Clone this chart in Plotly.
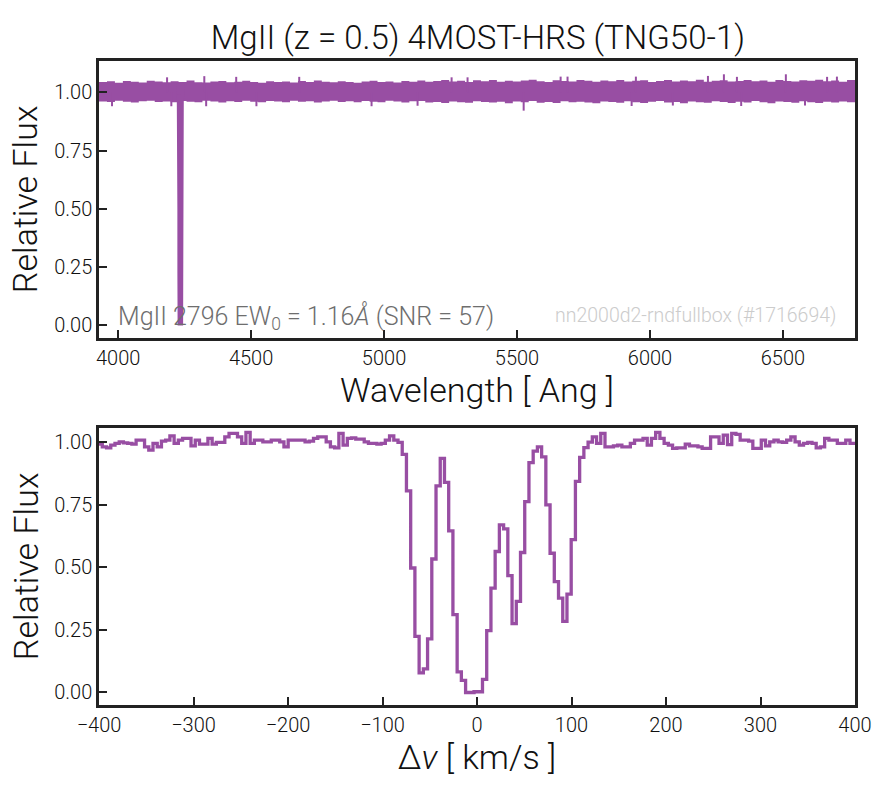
import numpy as np
import plotly.graph_objects as go

# ---- bottom panel: MgII 2796 profile, steps-mid on a uniform velocity grid
V_FIRST = -403.2      # km/s, centre of first pixel
DV = 4.47             # km/s per pixel
flux_profile = [
    0.992, 0.992, 0.981, 0.977, 0.988, 0.995, 1.001, 0.997, 0.995, 0.992,
    1.008, 1.008, 0.981, 0.968, 0.995, 0.981, 1.004, 1.008, 1.025, 0.995,
    1.008, 1.015, 1.015, 0.985,
    1.008, 0.992, 0.992, 1.015, 0.992, 0.999, 0.999, 1.021, 1.035, 1.035,
    1.021, 0.995, 1.039, 0.995, 1.008, 1.008, 1.001, 1.001, 1.008, 1.008,
    1.001, 0.981, 1.008, 1.008,
    1.008, 1.008, 1.001, 1.004, 1.015, 1.021, 1.021, 1.001, 0.981, 0.977,
    1.035, 0.988, 1.015, 1.017, 1.012, 1.012, 1.001, 0.995, 0.995,
    0.992, 0.995, 1.008, 1.025, 1.008, 0.999,
    0.951, 0.805, 0.497, 0.224, 0.078, 0.094, 0.214, 0.533, 0.825, 0.935,
    0.839, 0.645, 0.311, 0.082, 0.048, 0.000, 0.000,
    0.003, 0.003, 0.052, 0.247, 0.417, 0.563, 0.669, 0.653, 0.467, 0.275,
    0.364, 0.559, 0.762, 0.918, 0.964, 0.981, 0.941, 0.749, 0.556, 0.443,
    0.377, 0.284, 0.393, 0.610, 0.843, 0.939, 0.978, 1.000, 1.021,
    0.995, 1.035, 0.981, 0.981, 0.985, 0.988, 0.981, 0.981, 0.995, 1.008,
    1.008, 1.015, 0.988, 1.015, 1.039, 1.015, 0.995, 0.988,
    0.975, 0.977, 0.977, 0.992, 0.985, 0.985, 0.981, 0.975, 0.975, 1.021,
    1.021, 0.995, 1.028, 0.990, 1.035, 1.031, 1.008, 1.008, 1.004, 0.975,
    0.975, 1.008,
    0.985, 1.001, 1.008, 1.001, 0.999, 1.008, 1.021, 1.001, 0.988, 0.995,
    0.999, 0.995, 0.977, 0.981, 1.015, 1.008, 1.008, 0.995, 0.995, 1.008,
    0.995, 0.995,
]
velocity = V_FIRST + DV * np.arange(len(flux_profile))

# ---- top panel: full spectrum, noise band envelope + isolated spikes
WAVE_MIN, WAVE_MAX = 3928.0, 6771.0
LAM_2796 = 4234.0     # observed wavelength of the absorber
C_KMS = 299792.458
band_upper = [
    1.044, 1.047, 1.041, 1.048, 1.045, 1.042, 1.049, 1.046, 1.043, 1.047,
    1.044, 1.050, 1.043, 1.042, 1.046, 1.048, 1.043, 1.045, 1.049, 1.044,
    1.041, 1.047, 1.044, 1.046, 1.042, 1.048, 1.044, 1.050, 1.045, 1.043,
    1.047, 1.044, 1.041, 1.046, 1.049, 1.044, 1.046, 1.042, 1.048, 1.045,
    1.050, 1.045, 1.048, 1.053, 1.046, 1.049, 1.044, 1.051, 1.047, 1.052,
    1.045, 1.049, 1.046, 1.050, 1.054, 1.047, 1.044, 1.051, 1.048, 1.046,
    1.052, 1.049, 1.045, 1.050, 1.047, 1.053, 1.046, 1.049, 1.051, 1.044,
    1.048, 1.052, 1.046, 1.050, 1.047, 1.054, 1.045, 1.049, 1.051, 1.046,
    1.048, 1.053, 1.047, 1.050, 1.045, 1.052, 1.048, 1.046, 1.051, 1.049,
    1.054, 1.047, 1.050, 1.045, 1.052, 1.048,
]
band_lower = [
    0.960, 0.958, 0.963, 0.959, 0.956, 0.961, 0.964, 0.958, 0.960, 0.957,
    0.962, 0.959, 0.957, 0.963, 0.960, 0.956, 0.961, 0.958, 0.964, 0.959,
    0.957, 0.962, 0.960, 0.957, 0.963, 0.959, 0.961, 0.956, 0.960, 0.964,
    0.958, 0.961, 0.957, 0.962, 0.959, 0.957, 0.963, 0.960, 0.956, 0.961,
    0.962, 0.956, 0.958, 0.954, 0.960, 0.957, 0.955, 0.961, 0.958, 0.956,
    0.959, 0.953, 0.960, 0.957, 0.962, 0.955, 0.958, 0.954, 0.961, 0.957,
    0.959, 0.956, 0.953, 0.960, 0.958, 0.955, 0.961, 0.957, 0.954, 0.959,
    0.962, 0.956, 0.958, 0.953, 0.960, 0.957, 0.955, 0.961, 0.958, 0.954,
    0.959, 0.956, 0.962, 0.957, 0.953, 0.960, 0.958, 0.955, 0.961, 0.957,
    0.954, 0.959, 0.956, 0.960, 0.957, 0.955,
]
band_wave = np.linspace(WAVE_MIN, WAVE_MAX, len(band_upper))

spike_wave = [4184, 4324, 4444, 4681, 5254, 5314, 5664, 5690, 5947, 6218,
              6278, 6327, 6511, 6666, 6703,
              3977, 4200, 4331, 4520, 4953, 5126, 5525, 5931, 6086, 6343, 6583]
spike_flux = [1.064, 1.069, 1.066, 1.066, 1.064, 1.064, 1.067, 1.067, 1.067, 1.070,
              1.077, 1.066, 1.077, 1.066, 1.067,
              0.940, 0.940, 0.940, 0.940, 0.940, 0.942, 0.921, 0.941, 0.943, 0.941, 0.943]

PURPLE = "#984ea3"
AXCOL = "#222222"
FONT = "Roboto Light, Roboto"
SHIFT = 8  # page body margin offsets the figure

spx, spy = [], []
for w, f in zip(spike_wave, spike_flux):
    spx += [w, w, None]
    spy += [1.0, f, None]

abs_wave = LAM_2796 * (1 + velocity / C_KMS)

fig = go.Figure()
fig.add_trace(go.Scatter(x=band_wave, y=band_lower, mode="lines", line=dict(width=0, shape="hv", color=PURPLE),
                         xaxis="x", yaxis="y", showlegend=False, hoverinfo="skip"))
fig.add_trace(go.Scatter(x=band_wave, y=band_upper, mode="lines", line=dict(width=0, shape="hv", color=PURPLE),
                         fill="tonexty", fillcolor=PURPLE, xaxis="x", yaxis="y", showlegend=False))
fig.add_trace(go.Scatter(x=spx, y=spy, mode="lines", line=dict(width=2, color=PURPLE),
                         xaxis="x", yaxis="y", showlegend=False))
fig.add_trace(go.Scatter(x=abs_wave, y=flux_profile, mode="lines", line=dict(width=5.5, color=PURPLE),
                         xaxis="x", yaxis="y", showlegend=False))

fig.add_trace(go.Scatter(x=velocity, y=flux_profile, mode="lines",
                         line=dict(width=3.3, color=PURPLE, shape="hvh"),
                         xaxis="x2", yaxis="y2", showlegend=False))

axis_common = dict(showline=True, mirror=True, linecolor=AXCOL, linewidth=2.5,
                   ticks="inside", ticklen=8, tickwidth=1.5, tickcolor=AXCOL,
                   showgrid=False, zeroline=False, automargin=False,
                   tickfont=dict(family=FONT, size=20, color="#111111"))
yticks = [0, 0.25, 0.5, 0.75, 1.0]
title_font = dict(family=FONT, size=34, color="#111111")
YTITLE_X = -0.097  # left of the plot area, in axis-domain units

fig.update_layout(
    width=895, height=800,
    margin=dict(l=99 - SHIFT, r=40 + SHIFT, t=61 - SHIFT, b=95 + SHIFT),
    paper_bgcolor="white", plot_bgcolor="white",
    font=dict(family=FONT, color="#111111"),
    title=dict(text="MgII (z = 0.5) 4MOST-HRS (TNG50-1)", x=0.525, xanchor="center",
               y=1 - (37 - SHIFT) / 800, yanchor="middle", yref="container",
               font=dict(family=FONT, size=33, color="#111111")),
    xaxis=dict(axis_common, domain=[0, 1], anchor="y", range=[WAVE_MIN, WAVE_MAX],
               tickvals=[4000, 4500, 5000, 5500, 6000, 6500],
               title=dict(text="Wavelength [ Ang ]", standoff=2, font=title_font)),
    yaxis=dict(axis_common, domain=[0.5699, 1], anchor="x", range=[-0.054, 1.134],
               tickvals=yticks, tickformat=".2f"),
    xaxis2=dict(axis_common, domain=[0, 1], anchor="y2", range=[-400, 400],
                tickvals=[-400, -300, -200, -100, 0, 100, 200, 300, 400],
                title=dict(text="Δ<i>v</i> [ km/s ]", standoff=2, font=title_font)),
    yaxis2=dict(axis_common, domain=[0, 0.4301], anchor="x2", range=[-0.05, 1.056],
                tickvals=yticks, tickformat=".2f"),
    annotations=[
        dict(text="Relative Flux", xref="x domain", yref="y domain", x=YTITLE_X, y=0.5,
             xanchor="center", yanchor="middle", textangle=-90, showarrow=False, font=title_font),
        dict(text="Relative Flux", xref="x2 domain", yref="y2 domain", x=YTITLE_X, y=0.5,
             xanchor="center", yanchor="middle", textangle=-90, showarrow=False, font=title_font),
        dict(text="MgII 2796 EW<sub>0</sub> = 1.16<i>Å</i> (SNR = 57)", xref="x domain", yref="y domain",
             x=0.022, y=0.075, xanchor="left", yanchor="middle", showarrow=False,
             font=dict(family=FONT, size=25, color="#6e6e6e")),
        dict(text="nn2000d2-rndfullbox (#1716694)", xref="x domain", yref="y domain",
             x=0.978, y=0.08, xanchor="right", yanchor="middle", showarrow=False,
             font=dict(family=FONT, size=19.5, color="#cccccc")),
    ],
)

fig.write_html("out.html")
